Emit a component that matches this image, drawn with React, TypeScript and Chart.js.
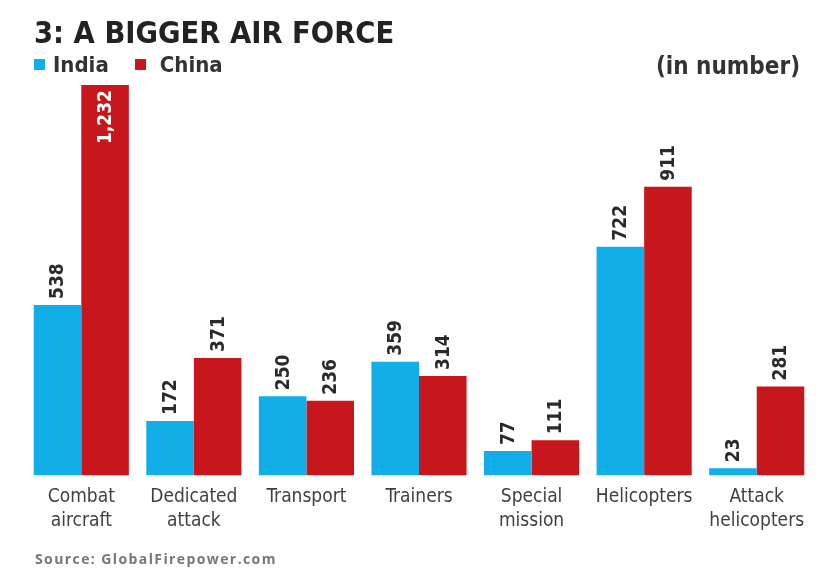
import React, { useEffect, useRef } from "react";
import { Chart, registerables } from "chart.js";

Chart.register(...registerables);

const categories: string[][] = [
  ["Combat", "aircraft"],
  ["Dedicated", "attack"],
  ["Transport"],
  ["Trainers"],
  ["Special", "mission"],
  ["Helicopters"],
  ["Attack", "helicopters"],
];
const indiaValues = [538, 172, 250, 359, 77, 722, 23];
const chinaValues = [1232, 371, 236, 314, 111, 911, 281];
const seriesNames = ["India", "China"];

const BLUE = "#12aee8";
const RED = "#c8161d";
const NARROW = '"DejaVu Sans Condensed", "Liberation Sans Narrow", "Liberation Sans", sans-serif';

const valueLabels = {
  id: "valueLabels",
  afterDatasetsDraw(chart: any) {
    const ctx = chart.ctx;
    const top = chart.chartArea.top;
    chart.data.datasets.forEach((ds: any, i: number) => {
      const meta = chart.getDatasetMeta(i);
      meta.data.forEach((bar: any, j: number) => {
        const v = ds.data[j] as number;
        const text = v.toLocaleString("en-US");
        ctx.save();
        ctx.font = `bold 19px ${NARROW}`;
        ctx.textBaseline = "middle";
        const w = ctx.measureText(text).width;
        const inside = bar.y - 6 - w < top - 2;
        if (inside) {
          ctx.translate(bar.x, bar.y + 5);
          ctx.rotate(-Math.PI / 2);
          ctx.textAlign = "right";
          ctx.fillStyle = "#ffffff";
        } else {
          ctx.translate(bar.x, bar.y - 6);
          ctx.rotate(-Math.PI / 2);
          ctx.textAlign = "left";
          ctx.fillStyle = "#2a2a2a";
        }
        ctx.fillText(text, 0, 1);
        ctx.restore();
      });
    });
  },
};

export default function App() {
  const ref = useRef<HTMLCanvasElement | null>(null);
  useEffect(() => {
    if (!ref.current) return;
    const chart = new Chart(ref.current, {
      type: "bar",
      data: {
        labels: categories,
        datasets: [
          { label: seriesNames[0], data: indiaValues, backgroundColor: BLUE, borderWidth: 0 },
          { label: seriesNames[1], data: chinaValues, backgroundColor: RED, borderWidth: 0 },
        ],
      },
      options: {
        responsive: false,
        animation: false,
        layout: { padding: { left: 25, right: 5, top: 85, bottom: 48 } },
        plugins: { legend: { display: false }, tooltip: { enabled: false }, title: { display: false } },
        datasets: { bar: { categoryPercentage: 0.845, barPercentage: 1.0 } },
        scales: {
          x: {
            grid: { display: false },
            border: { display: false },
            ticks: {
              color: "#404040",
              font: { family: NARROW, size: 19, lineHeight: 1.25 },
              padding: 2,
              maxRotation: 0,
              autoSkip: false,
            },
          },
          y: {
            display: false,
            min: 0,
            max: 1232,
          },
        },
      },
      plugins: [valueLabels],
    });
    return () => chart.destroy();
  }, []);

  return (
    <div style={{ position: "fixed", left: 0, top: 0, width: 818, height: 583, background: "#fff", overflow: "hidden" }}>
      <canvas ref={ref} width={818} height={583} style={{ position: "absolute", left: 0, top: 0 }} />
      <div style={{ position: "absolute", left: 34, top: 15, font: `bold 30.5px ${NARROW}`, color: "#222", whiteSpace: "nowrap" }}>
        3: A BIGGER AIR FORCE
      </div>
      <div style={{ position: "absolute", left: 34, top: 52, display: "flex", alignItems: "center", font: `bold 22px ${NARROW}`, color: "#333" }}>
        <span style={{ width: 11, height: 11, background: BLUE, display: "inline-block", marginRight: 8 }} />
        <span>{seriesNames[0]}</span>
        <span style={{ width: 11, height: 11, background: RED, display: "inline-block", marginLeft: 26, marginRight: 14 }} />
        <span>{seriesNames[1]}</span>
      </div>
      <div style={{ position: "absolute", right: 18, top: 52, font: `bold 24px ${NARROW}`, color: "#333", whiteSpace: "nowrap" }}>(in number)</div>
      <div style={{ position: "absolute", left: 35, top: 549, font: `bold 14px "Open Sans", sans-serif`, letterSpacing: 1.4, color: "#777", whiteSpace: "nowrap" }}>
        Source: GlobalFirepower.com
      </div>
    </div>
  );
}
